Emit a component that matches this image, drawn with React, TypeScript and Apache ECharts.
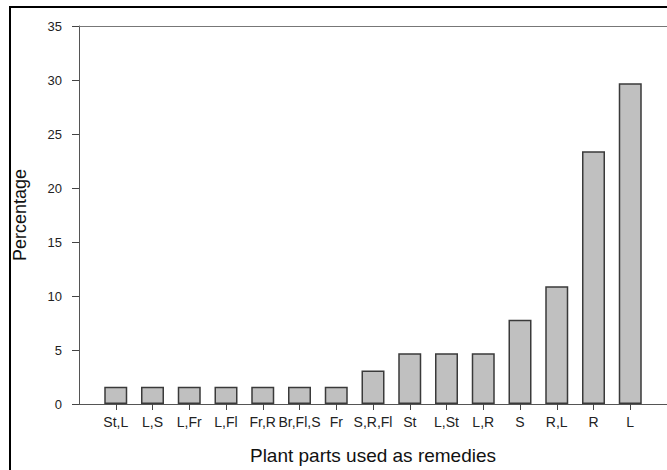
import React, { useEffect, useRef } from "react";
import * as echarts from "echarts";

const categories = ["St,L", "L,S", "L,Fr", "L,Fl", "Fr,R", "Br,Fl,S", "Fr", "S,R,Fl", "St", "L,St", "L,R", "S", "R,L", "R", "L"];
const values = [1.6, 1.6, 1.6, 1.6, 1.6, 1.6, 1.6, 3.1, 4.7, 4.7, 4.7, 7.8, 10.9, 23.4, 29.7];
const yTicks = { min: 0, max: 35, interval: 5 };
const xTitle = "Plant parts used as remedies";
const yTitle = "Percentage";

export default function App() {
  const ref = useRef<HTMLDivElement>(null);
  useEffect(() => {
    if (!ref.current) return;
    const chart = echarts.init(ref.current, undefined, { renderer: "svg" });
    const axisCats = ["", ...categories, ""];
    const data = [null, ...values, null];
    const last = axisCats.length - 1;
    const font = "'Liberation Sans', Arial, sans-serif";
    chart.setOption({
      animation: false,
      backgroundColor: "#fff",
      grid: {
        left: 79,
        top: 26,
        width: 592,
        height: 379,
        show: false,
        containLabel: false,
      },
      graphic: [
        {
          type: "line",
          shape: { x1: 9, y1: 7, x2: 680, y2: 7 },
          style: { stroke: "#000", lineWidth: 2 },
          silent: true,
        },
        {
          type: "line",
          shape: { x1: 10, y1: 6, x2: 10, y2: 480 },
          style: { stroke: "#000", lineWidth: 2 },
          silent: true,
        },
      ],
      xAxis: [
        {
          type: "category",
          data: axisCats,
          boundaryGap: false,
          name: xTitle,
          nameLocation: "middle",
          nameGap: 42,
          nameTextStyle: { fontFamily: font, fontSize: 19, color: "#111" },
          axisLine: { show: true, lineStyle: { color: "#555", width: 1 } },
          axisTick: {
            show: true,
            inside: false,
            length: 6,
            interval: (i: number) => i > 0 && i < last,
            lineStyle: { color: "#444" },
          },
          axisLabel: {
            show: true,
            interval: (i: number) => i > 0 && i < last,
            margin: 11,
            fontFamily: font,
            fontSize: 14,
            color: "#222",
          },
          splitLine: { show: false },
        },
        {
          type: "category",
          data: axisCats,
          boundaryGap: false,
          position: "top",
          axisLine: { show: true, lineStyle: { color: "#777", width: 1 } },
          axisTick: { show: false },
          axisLabel: { show: false },
          splitLine: { show: false },
        },
      ],
      yAxis: {
        type: "value",
        min: yTicks.min,
        max: yTicks.max,
        interval: yTicks.interval,
        name: yTitle,
        nameLocation: "middle",
        nameGap: 50,
        nameRotate: 90,
        nameTextStyle: { fontFamily: font, fontSize: 18, color: "#111" },
        axisLine: { show: true, lineStyle: { color: "#555", width: 1 } },
        axisTick: { show: true, inside: false, length: 7, lineStyle: { color: "#444" } },
        axisLabel: { margin: 17, fontFamily: font, fontSize: 13, color: "#222" },
        splitLine: { show: false },
      },
      series: [
        {
          type: "bar",
          xAxisIndex: 0,
          data,
          barWidth: 23,
          itemStyle: { color: "#c0c0c0", borderColor: "#3a3a3a", borderWidth: 1.5 },
        },
      ],
    });
    return () => chart.dispose();
  }, []);
  return <div ref={ref} style={{ position: "fixed", left: 0, top: 0, width: 667, height: 470 }} />;
}
